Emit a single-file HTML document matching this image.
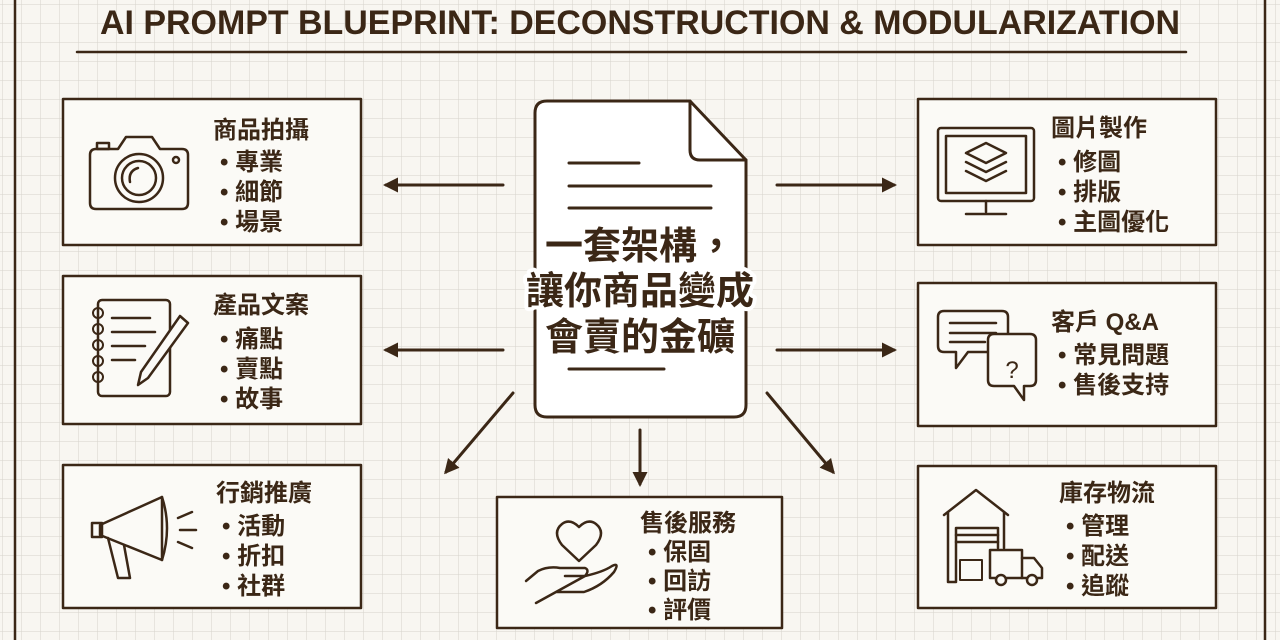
<!DOCTYPE html>
<html><head><meta charset="utf-8"><style>
html,body{margin:0;padding:0;width:1280px;height:640px;overflow:hidden;background:#f8f6f1}
svg{display:block}
text{font-family:"Liberation Sans","Noto Sans CJK TC",sans-serif;fill:#3b2716;font-weight:bold}
</style></head><body>
<svg width="1280" height="640" viewBox="0 0 1280 640" xmlns="http://www.w3.org/2000/svg">
<defs>
<pattern id="g" width="19" height="19" patternUnits="userSpaceOnUse" x="3" y="5">
<path d="M19 0V19M0 19H19" stroke="#d6d3cc" stroke-width="1" fill="none"/>
</pattern>
<marker id="ah" viewBox="0 0 10 10" refX="8" refY="5" markerWidth="5" markerHeight="5" orient="auto"><path d="M0 0L10 5L0 10z" fill="#3b2716"/></marker>
</defs>
<rect width="1280" height="640" fill="#f8f6f1"/>
<rect width="1280" height="640" fill="url(#g)"/>
<g stroke="#3b2716" fill="none" stroke-width="2.5" stroke-linecap="round" stroke-linejoin="round">
<line x1="15" y1="0" x2="15" y2="640"/><line x1="1265" y1="0" x2="1265" y2="640"/>
<line x1="77" y1="52" x2="1186" y2="52"/>
<rect x="63" y="99" width="298" height="146" fill="#fbfaf6"/>
<rect x="63" y="276" width="298" height="148" fill="#fbfaf6"/>
<rect x="63" y="465" width="298" height="143" fill="#fbfaf6"/>
<rect x="918" y="99" width="298" height="146" fill="#fbfaf6"/>
<rect x="918" y="283" width="298" height="143" fill="#fbfaf6"/>
<rect x="918" y="466" width="298" height="142" fill="#fbfaf6"/>
<rect x="497" y="497" width="285" height="131" fill="#fbfaf6"/>
<path d="M547 101H690L746 160V405Q746 417 734 417H547Q535 417 535 405V113Q535 101 547 101Z" fill="#fff" stroke-width="3"/>
<path d="M690 101V150Q690 160 700 160H746" stroke-width="3"/>
<line x1="569" y1="163" x2="639" y2="163" stroke-width="3"/>
<line x1="569" y1="186" x2="711" y2="186" stroke-width="3"/>
<line x1="569" y1="208" x2="711" y2="208" stroke-width="3"/>
<line x1="569" y1="369" x2="664" y2="369" stroke-width="3"/>
<g stroke-width="3" marker-end="url(#ah)">
<line x1="503" y1="185" x2="386" y2="185"/>
<line x1="503" y1="350" x2="386" y2="350"/>
<line x1="777" y1="185" x2="894" y2="185"/>
<line x1="777" y1="350" x2="894" y2="350"/>
<line x1="513" y1="393" x2="446" y2="472"/>
<line x1="640" y1="430" x2="640" y2="484"/>
<line x1="767" y1="393" x2="833" y2="472"/>
</g>
<path d="M96 149H118L126 137H152L160 149H182Q188 149 188 155V203Q188 209 182 209H96Q90 209 90 203V155Q90 149 96 149Z"/>
<rect x="97" y="143" width="12" height="6"/>
<circle cx="139" cy="178" r="24"/><circle cx="139" cy="178" r="17"/><path d="M130 182Q128 171 138 168"/>
<circle cx="176" cy="160" r="3"/>
<rect x="98" y="300" width="72" height="96" rx="4"/>
<g stroke-width="2"><circle cx="98" cy="313" r="5"/><circle cx="98" cy="329" r="5"/><circle cx="98" cy="345" r="5"/><circle cx="98" cy="361" r="5"/><circle cx="98" cy="377" r="5"/></g>
<line x1="112" y1="318" x2="150" y2="318"/><line x1="112" y1="332" x2="155" y2="332"/><line x1="112" y1="346" x2="145" y2="346"/><line x1="112" y1="360" x2="135" y2="360"/>
<path d="M180 316L188 323L148 378L138 385L141 372Z" fill="#fbfaf6"/>
<path d="M100 525L162 497V560L100 535Z"/><rect x="92" y="523" width="10" height="14"/><path d="M162 497Q172 528 162 560"/>
<path d="M108 538L118 578L130 578L124 545"/>
<line x1="178" y1="518" x2="192" y2="512"/><line x1="180" y1="530" x2="196" y2="530"/><line x1="178" y1="542" x2="192" y2="548"/>
<rect x="938" y="128" width="96" height="73" rx="3"/><rect x="946" y="136" width="80" height="57"/>
<line x1="986" y1="201" x2="986" y2="212"/><line x1="966" y1="214" x2="1006" y2="214"/>
<path d="M986 143L1006 153L986 163L966 153Z"/><path d="M966 162L986 172L1006 162"/><path d="M966 171L986 181L1006 171"/>
<path d="M944 311H1002Q1008 311 1008 317V346Q1008 352 1002 352H968L956 368V352H944Q938 352 938 346V317Q938 311 944 311Z"/>
<line x1="950" y1="323" x2="996" y2="323"/><line x1="950" y1="333" x2="996" y2="333"/><line x1="950" y1="342" x2="985" y2="342"/>
<path d="M988 352V340Q988 334 994 334H1030Q1036 334 1036 340V380Q1036 386 1030 386H1024V400L1014 386H994Q988 386 988 380V352" fill="#fbfaf6"/>
<path d="M944 515L976 490L1008 515"/><path d="M948 512V582H956V528H998V548"/><path d="M1004 512V548"/>
<line x1="956" y1="535" x2="998" y2="535"/><line x1="956" y1="542" x2="998" y2="542"/>
<rect x="960" y="560" width="22" height="20" stroke-width="2"/>
<path d="M990 550H1022V578H990Z"/><path d="M1022 558H1034L1042 568V578H1022"/>
<circle cx="1001" cy="580" r="5" fill="#fbfaf6"/><circle cx="1032" cy="580" r="5" fill="#fbfaf6"/>
<path d="M579 527Q570 518 562 524Q552 532 562 545L579 561L596 545Q606 532 596 524Q588 518 579 527Z"/>
<path d="M526 581L538 571Q548 566 560 568H585Q590 570 585 576H565M585 576Q603 572 612 566Q620 562 614 572Q602 586 584 592H556L536 603Z"/>
</g>
<text x="1012" y="378" font-size="24" font-weight="normal" text-anchor="middle" style="font-weight:normal">?</text>
<text x="640" y="34" font-size="34" text-anchor="middle" textLength="1080" lengthAdjust="spacingAndGlyphs">AI PROMPT BLUEPRINT: DECONSTRUCTION &amp; MODULARIZATION</text>
<g font-size="38" text-anchor="middle" stroke="#fff" stroke-width="8" paint-order="stroke" stroke-linejoin="round">
<text x="640" y="259">一套架構，</text>
<text x="640" y="304">讓你商品變成</text>
<text x="640" y="350">會賣的金礦</text>
</g>
<g font-size="24">
<text x="213" y="138">商品拍攝</text>
<text x="220" y="170">• 專業</text><text x="220" y="200">• 細節</text><text x="220" y="230">• 場景</text>
<text x="213" y="313">產品文案</text>
<text x="220" y="347">• 痛點</text><text x="220" y="377">• 賣點</text><text x="220" y="407">• 故事</text>
<text x="216" y="501">行銷推廣</text>
<text x="222" y="534">• 活動</text><text x="222" y="564">• 折扣</text><text x="222" y="594">• 社群</text>
<text x="1051" y="136">圖片製作</text>
<text x="1058" y="170">• 修圖</text><text x="1058" y="200">• 排版</text><text x="1058" y="230">• 主圖優化</text>
<text x="1051" y="330">客戶 Q&amp;A</text>
<text x="1058" y="363">• 常見問題</text><text x="1058" y="393">• 售後支持</text>
<text x="1059" y="501">庫存物流</text>
<text x="1066" y="534">• 管理</text><text x="1066" y="564">• 配送</text><text x="1066" y="594">• 追蹤</text>
<text x="640" y="531">售後服務</text>
<text x="648" y="560">• 保固</text><text x="648" y="589">• 回訪</text><text x="648" y="618">• 評價</text>
</g>
</svg>
</body></html>
